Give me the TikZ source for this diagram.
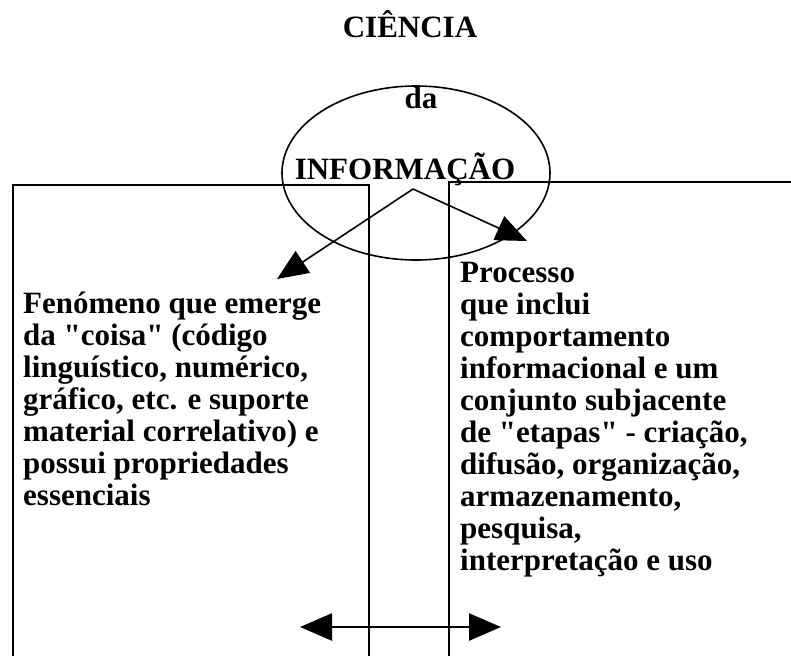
\documentclass[tikz,border=0pt]{standalone}
\usepackage{fontspec}
\setmainfont{Liberation Serif}[Ligatures=TeXOff]
\usetikzlibrary{positioning, arrows.meta}
\tikzset{
	arrow/.style={line width=1.6pt, -{Triangle[length=31pt, width=26pt]}},
	twoway/.style={line width=2.4pt, {Triangle[length=32pt, width=27pt]}-{Triangle[length=32pt, width=27pt]}},
	box/.style={line width=1.6pt},
	label/.style={font=\fontsize{31}{32}\selectfont\bfseries, inner sep=0pt},
	block/.style={font=\fontsize{31}{32}\selectfont\bfseries, inner sep=0pt, align=left, anchor=base west},
}

\begin{document}
\begin{tikzpicture}[x=1pt, y=-1pt]
	\useasboundingbox (0,0) rectangle (791,656);
% Title and ellipse
	\node[label, anchor=base] (title) at (410,37) {CIÊNCIA};
	\draw[box] (416,173) ellipse (134 and 87);
	\node[label, anchor=base] (da) at (421,108) {da};
	\node[label, anchor=base] (info) at (405,179) {INFORMAÇÃO};

% Boxes
	\draw[box] (13,656) |- (369,185) -- (369,656);
	\draw[box] (449,656) |- (791,182);

	% base of a block = baseline of its last line
	\node[block] (fen) at (23,505) {Fenómeno que emerge\\da "coisa" (código\\linguístico, numérico,\\gráfico, etc. e suporte\\material correlativo) e\\possui propriedades\\essenciais};
	\node[block] (proc) at (460,570) {Processo\\ que inclui\\ comportamento\\ informacional e um\\ conjunto subjacente\\ de "etapas" - criação,\\ difusão, organização,\\ armazenamento,\\ pesquisa,\\ interpretação e uso};

% Arrows
	\coordinate (src) at (413,189);
	\coordinate (fenTip) at (277,279);
	\coordinate (procTip) at (527,241);
	\draw[arrow] (src) -- (fenTip);
	\draw[arrow] (src) -- (procTip);

	\coordinate (left) at (300,627);
	\coordinate (right) at (501,627);
	\draw[twoway] (left) -- (right);
\end{tikzpicture}
\end{document}
